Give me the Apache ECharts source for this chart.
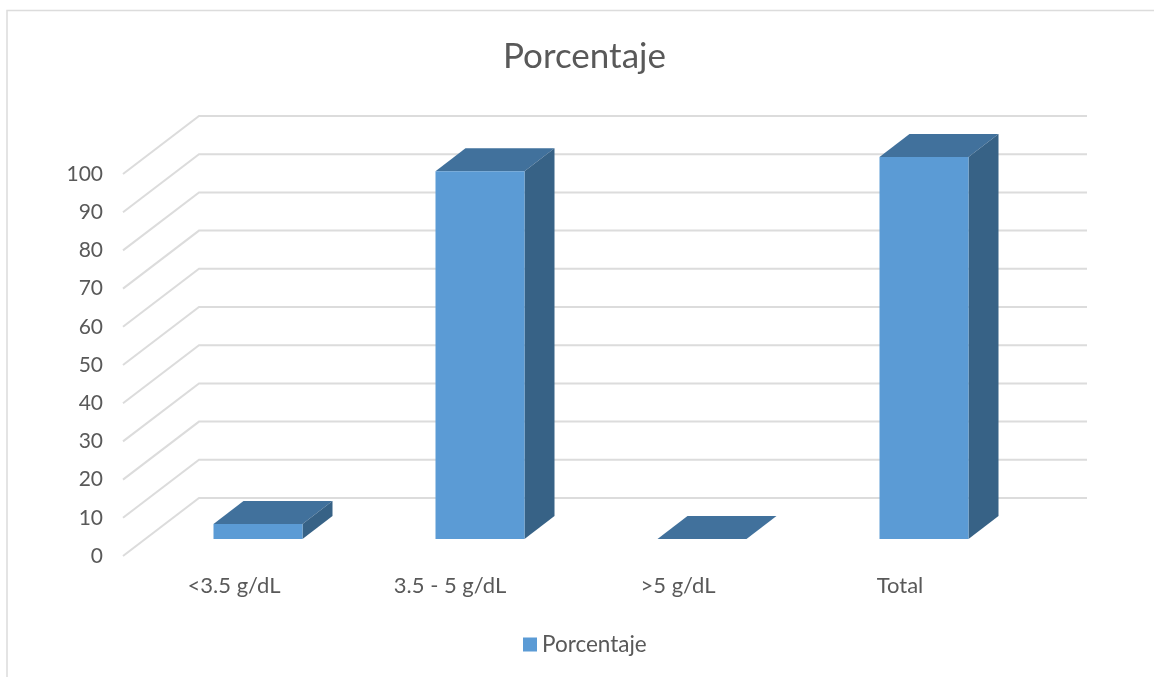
<!DOCTYPE html>
<html>
<head>
<meta charset="utf-8">
<style>html,body{margin:0;padding:0;background:#fff}#chart{width:1154px;height:677px}</style>
<script src="https://cdn.jsdelivr.net/npm/echarts@6/dist/echarts.min.js"></script>
</head>
<body>
<div id="chart"></div>
<script>
// Serum value groups and their share of the sample
const categories = ['<3.5 g/dL', '3.5 - 5 g/dL', '>5 g/dL', 'Total'];
const porcentaje = [3.9, 96.3, 0, 100];
const gridTicks = [0, 10, 20, 30, 40, 50, 60, 70, 80, 90, 100];

// Pseudo-3D projection, in pixels
const WALL_DX = 76, WALL_DY = -58;     // floor depth from front edge to back wall
const BAR_DX = 24, BAR_DY = -17;       // bars stand this far into the floor
const DEPTH_DX = 30, DEPTH_DY = -23;   // depth of each bar
const BAR_WIDTH = 89;

const TEXT = '#595959', LINE = '#dcdcdc';
const FRONT = '#5b9bd5', TOP = '#41719c', SIDE = '#376286';
const FONT = 'Lato';

function renderWall(params, api) {
  const sys = params.coordSys;
  const y = api.coord([0, api.value(0)])[1];
  const x0 = sys.x, x1 = sys.x + WALL_DX, x2 = sys.x + sys.width + WALL_DX;
  return {
    type: 'polyline',
    shape: { points: [[x0, y], [x1, y + WALL_DY], [x2, y + WALL_DY]] },
    style: { stroke: LINE, lineWidth: 2, fill: null }
  };
}

function renderBar(params, api) {
  const top = api.coord([api.value(0), api.value(1)]);
  const base = api.coord([api.value(0), 0]);
  const l = top[0] - BAR_WIDTH / 2 + BAR_DX, r = l + BAR_WIDTH;
  const t = top[1] + BAR_DY, b = base[1] + BAR_DY;
  const face = (points, fill) => ({
    type: 'polygon',
    shape: { points },
    style: { fill, stroke: null }
  });
  return {
    type: 'group',
    children: [
      face([[l, t], [r, t], [r + DEPTH_DX, t + DEPTH_DY], [l + DEPTH_DX, t + DEPTH_DY]], TOP),
      face([[r, t], [r + DEPTH_DX, t + DEPTH_DY], [r + DEPTH_DX, b + DEPTH_DY], [r, b]], SIDE),
      face([[l, t], [r, t], [r, b], [l, b]], FRONT)
    ]
  };
}

const chart = echarts.init(document.getElementById('chart'), null, { renderer: 'canvas' });
chart.setOption({
  animation: false,
  backgroundColor: '#ffffff',
  textStyle: { fontFamily: FONT },
  title: {
    text: 'Porcentaje',
    left: 503,
    top: 39,
    padding: 0,
    textStyle: { color: TEXT, fontSize: 35, fontWeight: 'normal', fontFamily: FONT }
  },
  legend: {
    data: ['Porcentaje'],
    left: 523,
    top: 633,
    padding: 0,
    icon: 'rect',
    itemWidth: 14,
    itemHeight: 14,
    itemGap: 0,
    textStyle: { color: TEXT, fontSize: 22.5, fontFamily: FONT }
  },
  grid: { left: 123, top: 174, width: 888, height: 382 },
  xAxis: {
    type: 'category',
    data: categories,
    axisLine: { show: false },
    axisTick: { show: false },
    axisLabel: {
      interval: 0,
      hideOverlap: false,
      color: TEXT,
      fontSize: 22,
      fontFamily: FONT,
      margin: 19,
      // the longer label sits a little left of its slot
      formatter: value => value === categories[1] ? '{shift|' + value + '}' : value,
      rich: { shift: { fontSize: 22, fontFamily: FONT, color: TEXT, padding: [0, 12, 0, 0] } }
    }
  },
  yAxis: {
    type: 'value',
    min: 0,
    max: 100,
    interval: 10,
    axisLine: { show: false },
    axisTick: { show: false },
    splitLine: { show: false },
    axisLabel: { color: TEXT, fontSize: 21, fontFamily: FONT, margin: 20, padding: [0, 0, 5, 0] }
  },
  graphic: [
    {
      type: 'polyline',
      silent: true,
      shape: { points: [[7, 677], [7, 10.5], [1154, 10.5]] },
      style: { stroke: LINE, lineWidth: 1.5, fill: null }
    }
  ],
  series: [
    {
      name: 'Paredes',
      type: 'custom',
      silent: true,
      z: 1,
      data: gridTicks.map(v => [v]),
      encode: { y: 0 },
      renderItem: renderWall
    },
    {
      name: 'Porcentaje',
      type: 'custom',
      z: 2,
      itemStyle: { color: FRONT },
      data: porcentaje.map((v, i) => [i, v]),
      encode: { x: 0, y: 1 },
      renderItem: renderBar
    }
  ]
});
</script>
</body>
</html>
